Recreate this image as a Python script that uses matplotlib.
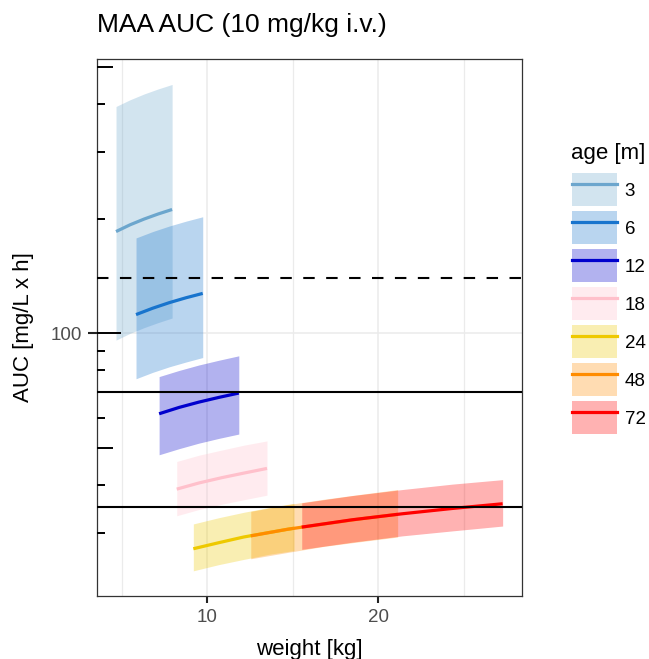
import matplotlib

matplotlib.use("Agg")
import matplotlib.pyplot as plt
from matplotlib.lines import Line2D
from matplotlib.patches import Patch
from matplotlib.ticker import NullLocator

plt.rcParams["font.family"] = ["Liberation Sans", "DejaVu Sans"]

# age groups [months] and their colours
AGES = ["3", "6", "12", "18", "24", "48", "72"]
COLORS = ["#6CA6CD", "#1874CD", "#0000CD", "#FFC0CB", "#EEC900", "#FF8C00", "#FF0000"]

# weight grid per age group [kg]
WEIGHT = [
    [4.66, 5.48, 6.30, 7.12, 7.94],
    [5.83, 6.805, 7.78, 8.755, 9.73],
    [7.18, 8.345, 9.51, 10.675, 11.84],
    [8.21, 9.53, 10.85, 12.17, 13.49],
    [9.18, 10.65, 12.125, 13.6, 15.07],
    [12.54, 14.69, 16.835, 18.98, 21.13],
    [15.52, 18.46, 21.395, 24.33, 27.27],
]
# AUC median [mg/L x h]
AUC_MED = [
    [185, 192.7, 199.5, 205.7, 211.4],
    [112, 116.4, 120.4, 124.0, 127.3],
    [61.5, 63.9, 66.0, 67.9, 69.7],
    [39, 40.5, 41.8, 43.0, 44.2],
    [27.2, 28.2, 29.2, 30.0, 30.8],
    [29.4, 30.6, 31.6, 32.6, 33.5],
    [31.0, 32.4, 33.6, 34.7, 35.7],
]
# AUC lower bound
AUC_LO = [
    [96, 100, 103.5, 106.7, 109.7],
    [76, 79.0, 81.7, 84.1, 86.4],
    [48, 49.8, 51.5, 53.0, 54.4],
    [33.2, 34.5, 35.6, 36.6, 37.6],
    [23.8, 24.7, 25.5, 26.3, 26.9],
    [25.6, 26.6, 27.6, 28.4, 29.2],
    [27.1, 28.3, 29.4, 30.3, 31.2],
]
# AUC upper bound
AUC_HI = [
    [394, 410.3, 424.9, 438.0, 450.1],
    [178, 185.0, 191.3, 197.0, 202.3],
    [77, 79.9, 82.6, 85.0, 87.3],
    [46.1, 47.9, 49.4, 50.9, 52.2],
    [31.6, 32.8, 33.9, 34.9, 35.8],
    [34.1, 35.5, 36.7, 37.8, 38.9],
    [35.9, 37.5, 38.9, 40.2, 41.3],
]

# reference lines
REF_DASHED = [140]
REF_SOLID = [70, 35]

# annotation_logticks style ticks on the y axis
LOGTICK_SHORT = [20, 30, 40, 60, 70, 80, 90, 200, 300, 400]
LOGTICK_MID = [50, 500]
LOGTICK_LONG = [100]

W, H = 649, 659
fig = plt.figure(figsize=(W / 100, H / 100), dpi=100)
ax_l, ax_r, ax_t, ax_b = 96.7, 522.3, 59.3, 595.7
ax = fig.add_axes([ax_l / W, 1 - ax_b / H, (ax_r - ax_l) / W, (ax_b - ax_t) / H])

for w, lo, hi, c in zip(WEIGHT, AUC_LO, AUC_HI, COLORS):
    ax.fill_between(w, lo, hi, color=c, alpha=0.3, lw=0, zorder=2)
for w, med, c in zip(WEIGHT, AUC_MED, COLORS):
    ax.plot(w, med, color=c, lw=2.3, solid_capstyle="butt", zorder=3)

for y in REF_DASHED:
    ax.axhline(y, color="black", lw=1.5, ls=(0, (5.5, 5.5)), zorder=4)
for y in REF_SOLID:
    ax.axhline(y, color="black", lw=1.5, zorder=4)

ax.set_yscale("log")
ax.set_xlim(3.53, 28.42)
ax.set_ylim(20.48, 524)

ax.set_xticks([10, 20])
ax.set_xticks([5, 15, 25], minor=True)
ax.set_yticks([100], ["100"])
ax.yaxis.set_minor_locator(NullLocator())

ax.set_axisbelow(True)
ax.grid(which="major", color="#EBEBEB", lw=1.1)
ax.grid(which="minor", axis="x", color="#EBEBEB", lw=0.9)

ax.tick_params(axis="x", which="major", length=5, width=1.5, color="#222222",
               pad=4.5, labelsize=13.5, labelcolor="#4D4D4D")
ax.tick_params(axis="x", which="minor", length=0)
ax.tick_params(axis="y", which="major", length=6.8, width=1.5, color="#222222",
               pad=3.5, labelsize=13.5, labelcolor="#4D4D4D")

tr = ax.get_yaxis_transform()
aw = ax_r - ax_l
for vals, px in ((LOGTICK_SHORT, 8), (LOGTICK_MID, 16), (LOGTICK_LONG, 24)):
    ax.hlines(vals, 0, px / aw, transform=tr, color="black", lw=1.4, zorder=5)

for s in ax.spines.values():
    s.set_color("#333333")
    s.set_linewidth(0.9)

fig.text(97 / W, 1 - 32 / H, "MAA AUC (10 mg/kg i.v.)", fontsize=19, ha="left", va="baseline")
fig.text(23.5 / W, 1 - 327.5 / H, "AUC [mg/L x h]", fontsize=16, rotation=90, ha="center", va="center")
fig.text((ax_l + ax_r) / 2 / W, 1 - 649 / H, "weight [kg]", fontsize=16, ha="center", va="center")

# legend
fs = 13.5
px_em = fs * 100 / 72
handles = [
    (Patch(facecolor=c, alpha=0.3, edgecolor="none"), Line2D([], [], color=c, lw=2.3))
    for c in COLORS
]
ax.legend(
    handles, AGES, loc="upper left",
    bbox_to_anchor=(571.7 / W, 1 - 173.3 / H), bbox_transform=fig.transFigure,
    frameon=False, borderpad=0, borderaxespad=0, fontsize=fs,
    handlelength=45.3 / px_em, handleheight=44 / px_em,
    labelspacing=4.8 / px_em, handletextpad=7.5 / px_em,
)
fig.text(571 / W, 1 - 159.3 / H, "age [m]", fontsize=16, ha="left", va="baseline")

fig.savefig("out.png", dpi=100)
